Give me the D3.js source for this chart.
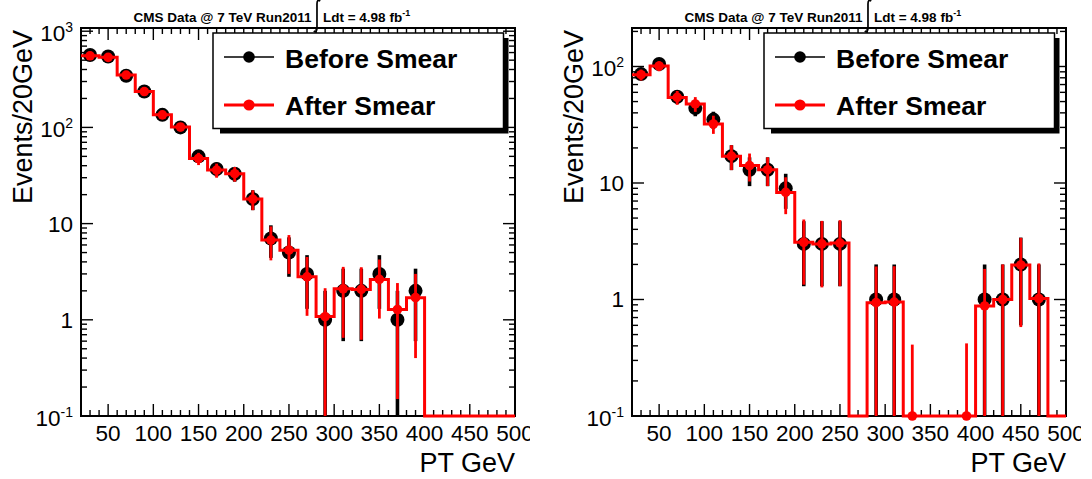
<!DOCTYPE html>
<html>
<head>
<meta charset="utf-8">
<script src="https://cdn.jsdelivr.net/npm/d3@7"></script>
<style>
  html, body { margin: 0; padding: 0; background: #fff; }
  svg { display: block; }
  text { font-family: "Liberation Sans", Arial, Helvetica, sans-serif; fill: #000; }
</style>
</head>
<body>
<svg id="chart" width="1092" height="479"></svg>
<script>
// ---------------- DATA ----------------
const binCenters = [30,50,70,90,110,130,150,170,190,210,230,250,270,290,310,330,350,370,390,410,430,450,470,490];
const binWidth = 20;

const leftBefore    = [565,545,345,236,135,100,50,37,33,18,7,5,3,1,2,2,3,1,2,0,0,0,0,0];
const leftBeforeErr = [23.8,23.3,18.6,15.4,11.6,10,7.1,6.1,5.7,4.2,2.6,2.2,1.7,1,1.4,1.4,1.7,1,1.4,0,0,0,0,0];
const leftAfter     = [555,535,350,236,135,101,47.5,36,33,18,6.75,5.3,2.8,1.08,2.1,2.07,2.63,1.28,1.7,0,0,0,0,0];
const leftAfterErr  = [23.6,23.1,18.7,15.4,11.6,10,6.9,6,5.7,4.2,2.6,2.3,1.7,1.05,1.45,1.45,1.6,1.13,1.3,0,0,0,0,0];

const rightBefore    = [86,105,55,44,35,17,13,13,9,3,3,3,0,1,1,0,0,0,0,1,1,2,1,0];
const rightBeforeErr = [9.3,10.2,7.4,6.6,5.9,4.1,3.6,3.6,3,1.7,1.7,1.7,0,1,1,0,0,0,0,1,1,1.4,1,0];
const rightAfter     = [85,101,54.3,47.7,32.1,17,14.1,13,8.3,3.1,3.0,3.05,0,0.94,0.95,0.04,0,0,0.04,0.88,1.0,1.98,1.02,0];
const rightAfterErr  = [9.2,10,7.4,6.9,5.7,4.1,3.8,3.6,2.9,1.76,1.73,1.75,0,0.98,0.98,0.37,0,0,0.38,0.95,1.0,1.4,1.02,0];

const xTickLabels = [50,100,150,200,250,300,350,400,450,500];
const leftYTicks  = [0.1,1,10,100,1000];
const rightYTicks = [0.1,1,10,100];

const legendLabels = ["Before Smear", "After Smear"];
const titleMain = "CMS Data @ 7 TeV Run2011";
const titleLumi = "Ldt = 4.98 fb";
const titleSup  = "-1";
const yTitle = "Events/20GeV";
const xTitle = "PT GeV";

const xDomain = [20, 500];
const leftYDomain  = [0.1, 1080];
const rightYDomain = [0.1, 214];

// ---------------- LAYOUT ----------------
const svg = d3.select("#chart");
const FX0 = 81, FX1 = 515, FY0 = 28, FY1 = 416;
const panels = [
  { ox: 0,   before: leftBefore,  beforeErr: leftBeforeErr,  after: leftAfter,  afterErr: leftAfterErr,  yDomain: leftYDomain,  yTicks: leftYTicks },
  { ox: 551, before: rightBefore, beforeErr: rightBeforeErr, after: rightAfter, afterErr: rightAfterErr, yDomain: rightYDomain, yTicks: rightYTicks }
];

const defs = svg.append("defs");

panels.forEach((p, pi) => {
  defs.append("clipPath").attr("id", "pclip" + pi)
    .append("rect").attr("x", 0).attr("y", 0).attr("width", 530).attr("height", 479);
  defs.append("clipPath").attr("id", "fclip" + pi)
    .append("rect").attr("x", FX0 - 10).attr("y", FY0).attr("width", FX1 - FX0 + 20).attr("height", FY1 - FY0 + 10);

  const g = svg.append("g").attr("transform", `translate(${p.ox},0)`).attr("clip-path", `url(#pclip${pi})`);

  const x = d3.scaleLinear().domain(xDomain).range([FX0, FX1]);
  const y = d3.scaleLog().domain(p.yDomain).range([FY1, FY0]).clamp(true);
  const yv = v => y(Math.max(v, p.yDomain[0]));

  // ---- ticks ----
  const tg = g.append("g").attr("stroke", "#000").attr("stroke-width", 1.4);
  // x ticks (bottom + top)
  for (let v = xDomain[0]; v <= xDomain[1]; v += 10) {
    const major = xTickLabels.includes(v);
    const len = major ? 12 : 6;
    tg.append("line").attr("x1", x(v)).attr("x2", x(v)).attr("y1", FY1).attr("y2", FY1 - len);
    tg.append("line").attr("x1", x(v)).attr("x2", x(v)).attr("y1", FY0).attr("y2", FY0 + len);
  }
  // y ticks (log)
  const yMajor = p.yTicks;
  const yMinor = [];
  yMajor.forEach(m => { for (let k = 2; k <= 9; k++) { const v = m * k; if (v <= p.yDomain[1]) yMinor.push(v); } });
  yMajor.forEach(v => {
    tg.append("line").attr("x1", FX0).attr("x2", FX0 + 12).attr("y1", y(v)).attr("y2", y(v));
    tg.append("line").attr("x1", FX1).attr("x2", FX1 - 12).attr("y1", y(v)).attr("y2", y(v));
  });
  yMinor.forEach(v => {
    tg.append("line").attr("x1", FX0).attr("x2", FX0 + 6).attr("y1", y(v)).attr("y2", y(v));
    tg.append("line").attr("x1", FX1).attr("x2", FX1 - 6).attr("y1", y(v)).attr("y2", y(v));
  });

  // frame
  g.append("rect").attr("x", FX0).attr("y", FY0).attr("width", FX1 - FX0).attr("height", FY1 - FY0)
    .attr("fill", "none").attr("stroke", "#000").attr("stroke-width", 2);

  // x tick labels
  g.append("g").selectAll("text").data(xTickLabels).join("text")
    .attr("x", d => x(d)).attr("y", 441).attr("text-anchor", "middle")
    .attr("font-size", "22.5px").text(d => d);

  // y tick labels
  p.yTicks.forEach(v => {
    const e = Math.round(Math.log10(v));
    const t = g.append("text").attr("x", FX0 - 8).attr("text-anchor", "end").attr("font-size", "22.5px");
    if (e === 0 || e === 1) {
      t.attr("y", y(v) + 8).text(e === 0 ? "1" : "10");
    } else {
      t.attr("y", y(v) + 9.5);
      t.append("tspan").text("10");
      t.append("tspan").attr("font-size", "14px").attr("dy", -9).text(String(e).replace("-", "-"));
    }
  });

  // axis titles
  g.append("text").attr("transform", `translate(31.5,30) rotate(-90)`).attr("text-anchor", "end")
    .attr("font-size", "27px").text(yTitle);
  g.append("text").attr("x", FX1).attr("y", 472).attr("text-anchor", "end")
    .attr("font-size", "27px").text(xTitle);

  // ---- data ----
  const dg = g.append("g").attr("clip-path", `url(#fclip${pi})`);
  const idx = d3.range(binCenters.length);

  // Before smear (black)
  dg.append("g").selectAll("line").data(idx.filter(i => p.before[i] > 0)).join("line")
    .attr("x1", i => x(binCenters[i])).attr("x2", i => x(binCenters[i]))
    .attr("y1", i => yv(p.before[i] - p.beforeErr[i])).attr("y2", i => yv(p.before[i] + p.beforeErr[i]))
    .attr("stroke", "#000").attr("stroke-width", 3.6);
  dg.append("g").selectAll("circle").data(idx.filter(i => p.before[i] > 0)).join("circle")
    .attr("cx", i => x(binCenters[i])).attr("cy", i => yv(p.before[i])).attr("r", 7).attr("fill", "#000");

  // After smear step histogram (red)
  const stepPts = [];
  idx.forEach(i => {
    stepPts.push([binCenters[i] - binWidth / 2, p.after[i]]);
    stepPts.push([binCenters[i] + binWidth / 2, p.after[i]]);
  });
  const line = d3.line().x(d => x(d[0])).y(d => yv(d[1]));
  dg.append("path").attr("d", line(stepPts)).attr("fill", "none")
    .attr("stroke", "#ff0000").attr("stroke-width", 3).attr("stroke-linejoin", "miter");

  dg.append("g").selectAll("line").data(idx.filter(i => p.after[i] > 0)).join("line")
    .attr("x1", i => x(binCenters[i])).attr("x2", i => x(binCenters[i]))
    .attr("y1", i => yv(p.after[i] - p.afterErr[i])).attr("y2", i => yv(p.after[i] + p.afterErr[i]))
    .attr("stroke", "#ff0000").attr("stroke-width", 2.8);
  dg.append("g").selectAll("circle").data(idx.filter(i => p.after[i] > 0)).join("circle")
    .attr("cx", i => x(binCenters[i])).attr("cy", i => yv(p.after[i])).attr("r", 4.8).attr("fill", "#ff0000");

  // ---- legend ----
  const LX0 = 213, LX1 = 503.5, LY0 = 33, LY1 = 128.5;
  const lg = g.append("g");
  lg.append("rect").attr("x", LX0 + 7).attr("y", LY0 + 5).attr("width", LX1 - LX0 - 2).attr("height", LY1 - LY0)
    .attr("fill", "#000");
  lg.append("rect").attr("x", LX0).attr("y", LY0).attr("width", LX1 - LX0).attr("height", LY1 - LY0)
    .attr("fill", "#fff").attr("stroke", "#000").attr("stroke-width", 1.5);
  const entries = [
    { label: legendLabels[0], color: "#000", lw: 1.3, r: 5.8, y: 57, ty: 68 },
    { label: legendLabels[1], color: "#ff0000", lw: 2.8, r: 5.6, y: 105, ty: 115 }
  ];
  entries.forEach(en => {
    lg.append("line").attr("x1", 224).attr("x2", 274).attr("y1", en.y).attr("y2", en.y)
      .attr("stroke", en.color).attr("stroke-width", en.lw);
    lg.append("circle").attr("cx", 249).attr("cy", en.y).attr("r", en.r).attr("fill", en.color);
    lg.append("text").attr("x", 285).attr("y", en.ty).attr("font-size", "26.5px").attr("font-weight", "bold")
      .text(en.label);
  });

  // ---- title ----
  const t1 = g.append("text").attr("x", 133.5).attr("y", 22).attr("font-size", "13.5px").attr("font-weight", "bold").text(titleMain);
  const w1 = t1.node().getComputedTextLength();
  const ix = 133.5 + w1 + 5.5;
  g.append("path")
    .attr("d", `M${ix + 3.2},1.2 C${ix + 1.2},-0.6 ${ix},0.8 ${ix},4 L${ix},28 C${ix},31.2 ${ix - 1.2},32.6 ${ix - 3.2},31`)
    .attr("fill", "none").attr("stroke", "#000").attr("stroke-width", 1.7);
  const t2 = g.append("text").attr("x", ix + 6).attr("y", 22).attr("font-size", "13.5px").attr("font-weight", "bold");
  t2.append("tspan").text(titleLumi);
  t2.append("tspan").attr("font-size", "9px").attr("dy", -6).text(titleSup);
});
</script>
</body>
</html>
